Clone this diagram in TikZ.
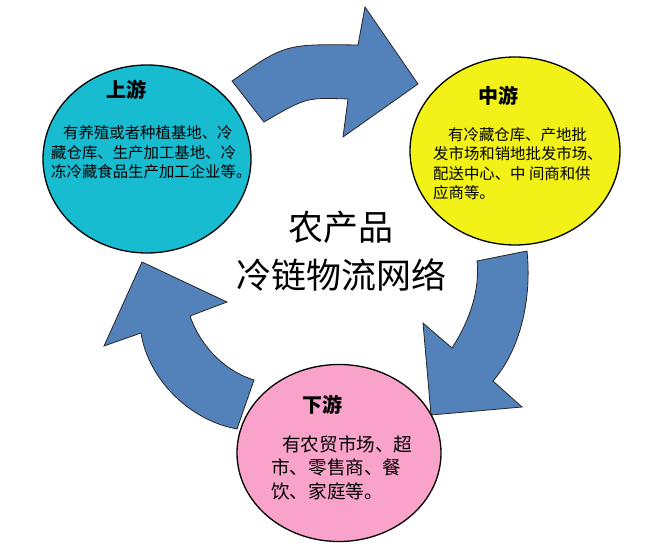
\documentclass[tikz,border=0pt]{standalone}
\usepackage{fontspec}
\setmainfont{Noto Sans CJK SC}
\usetikzlibrary{shapes.geometric}
\definecolor{cyanc}{RGB}{24,188,208}
\definecolor{yellowc}{RGB}{242,242,24}
\definecolor{pinkc}{RGB}{249,163,203}
\definecolor{arrowblue}{RGB}{83,129,186}
\tikzset{
  blockarrow/.style={fill=arrowblue, draw=black!85, line width=0.8bp, line join=miter},
  bubble/.style={ellipse, draw=black, line width=1.3bp, inner sep=0pt},
  titletext/.style={anchor=base, inner sep=0pt, font=\fontsize{20bp}{24bp}\selectfont\bfseries},
  bodytext/.style={anchor=base west, inner sep=0pt, align=left},
  centertext/.style={anchor=base, inner sep=0pt, align=center, font=\fontsize{35bp}{47bp}\selectfont}
}
\begin{document}
\begin{tikzpicture}[x=1bp,y=-1bp]
\useasboundingbox (0,0) rectangle (664,560);
% top arrow
\draw[blockarrow] (232,81) .. controls (285,44) .. (358,45) -- (365,7) -- (418,84) -- (343,137) -- (348,99)
  .. controls (306,97.5) .. (264,122) -- cycle;
% right arrow
\draw[blockarrow] (477,261) .. controls (480,290) and (470,320) .. (452,348) -- (423,323) -- (431,415) -- (522,407) -- (493,381)
  .. controls (520,350) and (532,300) .. (527,251) -- cycle;
% left arrow
\draw[blockarrow] (237,429) .. controls (188,420) and (148,378) .. (141,333) -- (104,346) -- (142,262) -- (227,302) -- (190,316)
  .. controls (202,350) and (228,372) .. (254,380) -- cycle;
% bubbles
\node[bubble, fill=cyanc, minimum width=208bp, minimum height=188bp] (up) at (147,159) {};
\node[bubble, fill=yellowc, minimum width=210bp, minimum height=188bp] (mid) at (515,151) {};
\node[bubble, fill=pinkc, minimum width=204bp, minimum height=177bp] (down) at (339,453) {};
% texts
\node[titletext] (upt) at (126,98) {上游};
\node[bodytext, font=\fontsize{15.4bp}{19.5bp}\selectfont] (upb) at (51,178) {\hspace*{12bp}有养殖或者种植基地、冷\\藏仓库、生产加工基地、冷\\冻冷藏食品生产加工企业等。};
\node[titletext] (midt) at (498,104) {中游};
\node[bodytext, font=\fontsize{15.4bp}{19.6bp}\selectfont] (midb) at (433,199) {\hspace*{15bp}有冷藏仓库、产地批\\发市场和销地批发市场、\\配送中心、中 间商和供\\应商等。};
\node[titletext] (downt) at (322,412) {下游};
\node[bodytext, font=\fontsize{18.6bp}{23.5bp}\selectfont] (downb) at (271,498) {\hspace*{11bp}有农贸市场、超\\市、零售商、餐\\饮、家庭等。};
\node[centertext] (center) at (341,288) {农产品\\冷链物流网络};
\end{tikzpicture}
\end{document}
